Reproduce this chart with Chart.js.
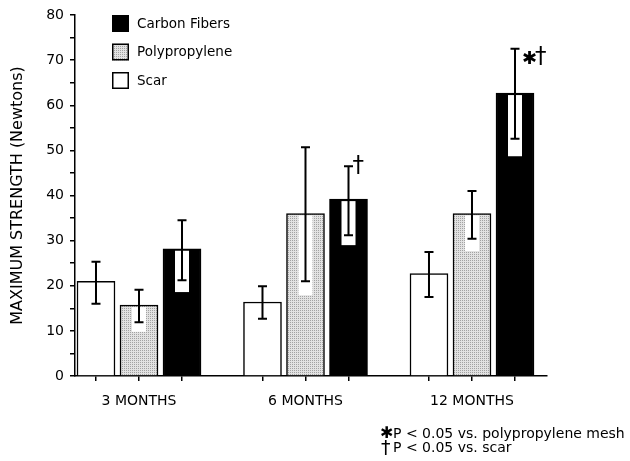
<!DOCTYPE html>
<html>
<head>
<meta charset="utf-8">
<script src="https://cdn.jsdelivr.net/npm/chart.js@4"></script>
<style>
  html, body { margin: 0; padding: 0; background: #fff; }
  #wrap { width: 630px; height: 461px; }
</style>
</head>
<body>
<div id="wrap"><canvas id="strengthChart" width="630" height="461"></canvas></div>
<script>
// ===== Maximum strength by implant type =====
const groups = ['3 MONTHS', '6 MONTHS', '12 MONTHS'];
const yTicks = [0, 10, 20, 30, 40, 50, 60, 70, 80];

const scarMean = [21.0, 16.4, 22.7];
const scarHi   = [25.3, 19.9, 27.5];
const scarLo   = [16.0, 12.7, 17.5];

const polyMean = [15.7, 36.0, 36.0];
const polyHi   = [19.1, 50.7, 41.0];
const polyLo   = [11.9, 21.0, 30.4];
const polyGap  = [9.8, 17.9, 27.7];

const carbonMean = [28.2, 39.2, 62.7];
const carbonHi   = [34.5, 46.5, 72.5];
const carbonLo   = [21.2, 31.2, 52.6];
const carbonGap  = [18.6, 29.0, 48.7];
const carbonMarks = ['', '\u2020', '\u2731\u2020'];

const FONT = 'DejaVu Sans';

function makeStipple() {
  const c = document.createElement('canvas');
  c.width = 2; c.height = 2;
  const g = c.getContext('2d');
  g.fillStyle = '#e2e2e2'; g.fillRect(0, 0, 2, 2);
  g.fillStyle = '#a2a2a2'; g.fillRect(0, 0, 1, 1);
  return g.createPattern(c, 'repeat');
}
const stipple = makeStipple();

// each series sits at its own offset inside a group (group units)
const barStep = 0.2583;
const series = [
  { label: 'Scar', shift: -barStep, mean: scarMean, hi: scarHi, lo: scarLo, gap: null, fill: '#ffffff', marks: null },
  { label: 'Polypropylene', shift: 0, mean: polyMean, hi: polyHi, lo: polyLo, gap: polyGap, fill: stipple, marks: null },
  { label: 'Carbon Fibers', shift: barStep, mean: carbonMean, hi: carbonHi, lo: carbonLo, gap: carbonGap, fill: '#000000', marks: carbonMarks }
];

const errorBars = {
  id: 'errorBars',
  afterDatasetsDraw(chart) {
    const ctx = chart.ctx, y = chart.scales.y;
    ctx.save();
    series.forEach((s, di) => {
      const meta = chart.getDatasetMeta(di);
      meta.data.forEach((el, i) => {
        const cx = el.x;
        if (s.gap) {
          ctx.fillStyle = '#ffffff';
          const t = y.getPixelForValue(s.mean[i]) + 2;
          const b = y.getPixelForValue(s.gap[i]);
          ctx.fillRect(cx - 7, t, 14, b - t);
        }
        const yh = y.getPixelForValue(s.hi[i]);
        const yl = y.getPixelForValue(s.lo[i]);
        ctx.strokeStyle = '#000';
        ctx.lineWidth = 2;
        ctx.beginPath();
        ctx.moveTo(cx, yh); ctx.lineTo(cx, yl);
        ctx.moveTo(cx - 4.5, yh); ctx.lineTo(cx + 4.5, yh);
        ctx.moveTo(cx - 4.5, yl); ctx.lineTo(cx + 4.5, yl);
        ctx.stroke();
        if (s.marks && s.marks[i]) {
          ctx.fillStyle = '#000';
          ctx.textAlign = 'left';
          const withStar = s.marks[i].includes('\u2731');
          let x = cx + (withStar ? 7 : 5);
          for (const ch of s.marks[i]) {
            if (ch === '\u2731') {
              ctx.font = '18px ' + FONT;
              ctx.textBaseline = 'middle';
              ctx.fillText(ch, x, yh + 10);
              x += ctx.measureText(ch).width - 1;
            } else {
              ctx.font = '23px ' + FONT;
              ctx.textBaseline = 'top';
              ctx.fillText(ch, x - 1, (withStar ? yh + 1 : yh - 8) - 4);
              x += ctx.measureText(ch).width;
            }
          }
        }
      });
    });
    ctx.restore();
  }
};

const legendAndNotes = {
  id: 'legendAndNotes',
  afterDraw(chart) {
    const ctx = chart.ctx;
    ctx.save();
    [2, 1, 0].forEach((di, k) => {
      const s = series[di];
      const top = 15 + k * 28.5;
      ctx.fillStyle = s.fill;
      ctx.fillRect(112, top, 17, 17);
      ctx.strokeStyle = '#000';
      ctx.lineWidth = 1.5;
      ctx.strokeRect(112.75, top + 0.75, 15.5, 15.5);
      ctx.fillStyle = '#000';
      ctx.font = '13.5px ' + FONT;
      ctx.textBaseline = 'middle';
      ctx.textAlign = 'left';
      ctx.fillText(s.label, 137, top + 9);
    });
    // footnotes
    ctx.fillStyle = '#000';
    ctx.textBaseline = 'middle';
    ctx.font = '16px ' + FONT;
    ctx.fillText('\u2731', 380, 434);
    ctx.font = '14px ' + FONT;
    ctx.fillText('P < 0.05 vs. polypropylene mesh', 393, 434);
    ctx.font = '19px ' + FONT;
    ctx.fillText('\u2020', 381, 449);
    ctx.font = '14px ' + FONT;
    ctx.fillText('P < 0.05 vs. scar', 393, 448);
    ctx.restore();
  }
};

new Chart(document.getElementById('strengthChart'), {
  type: 'bar',
  data: {
    datasets: series.map(s => ({
      label: s.label,
      data: s.mean.map((v, i) => ({ x: i + s.shift, y: v })),
      backgroundColor: s.fill,
      borderColor: '#000',
      borderWidth: 1.5,
      borderSkipped: 'bottom',
      grouped: false,
      barThickness: 38
    }))
  },
  options: {
    responsive: false,
    animation: false,
    layout: { padding: { top: 15, right: 83, left: 0, bottom: 0 } },
    plugins: { legend: { display: false }, tooltip: { enabled: false } },
    scales: {
      x: {
        type: 'linear',
        offset: false,
        min: -0.3844,
        max: 2.4505,
        afterFit: s => { s.height = 85; },
        afterBuildTicks: s => {
          const t = [];
          groups.forEach((g, i) => { t.push({ value: i - barStep }, { value: i }, { value: i + barStep }); });
          s.ticks = t;
        },
        grid: { drawOnChartArea: false, offset: false, color: '#000', tickLength: 5, lineWidth: 1.5 },
        border: { color: '#000', width: 1.5 },
        ticks: {
          autoSkip: false, maxRotation: 0, padding: 12,
          color: '#000', font: { family: FONT, size: 14 },
          callback: v => Number.isInteger(v) ? groups[v] : ''
        }
      },
      y: {
        min: 0,
        max: 80,
        afterFit: s => { s.width = 75; },
        afterBuildTicks: s => {
          const t = [];
          for (let v = 0; v <= 80; v += 5) t.push({ value: v });
          s.ticks = t;
        },
        grid: { drawOnChartArea: false, color: '#000', tickLength: 5, lineWidth: 1.5 },
        border: { color: '#000', width: 1.5 },
        ticks: {
          padding: 6, color: '#000', font: { family: FONT, size: 14 },
          callback: v => yTicks.includes(v) ? String(v) : ''
        },
        title: {
          display: true, text: 'MAXIMUM STRENGTH (Newtons)', color: '#000',
          font: { family: FONT, size: 16 }, padding: { top: 8, bottom: 0 }
        }
      }
    }
  },
  plugins: [errorBars, legendAndNotes]
});
</script>
</body>
</html>
